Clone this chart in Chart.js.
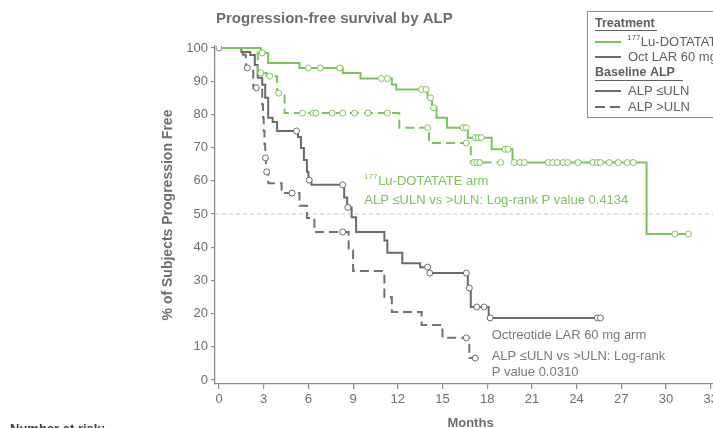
<!DOCTYPE html>
<html>
<head>
<meta charset="utf-8">
<script src="https://cdn.jsdelivr.net/npm/chart.js@4.4.0/dist/chart.umd.min.js"></script>
<style>
  html, body { margin: 0; padding: 0; background: #fff; overflow: hidden; }
  #wrap { position: relative; width: 740px; height: 444px; }
</style>
</head>
<body>
<div id="wrap"><canvas id="km" width="740" height="444"></canvas></div>
<script>
// tick labels
const monthTicks = [0, 3, 6, 9, 12, 15, 18, 21, 24, 27, 30, 33];
const pctTicks   = [0, 10, 20, 30, 40, 50, 60, 70, 80, 90, 100];

// 177Lu-DOTATATE, ALP <=ULN (step times in months, survival %)
const luLowT = [0, 2.8, 3.3, 5.4, 8.3, 9.5, 11.6, 11.9, 14.0, 14.3, 14.6, 15.3, 16.7, 18.3, 19.7, 28.7, 31.6];
const luLowS = [100, 98.5, 95.5, 94, 92.5, 90.8, 89, 87.5, 85, 82, 79, 76, 73, 69.5, 65.5, 44, 44];
const luLowCens = [2.9, 6.0, 6.8, 8.1, 10.9, 11.3, 13.6, 13.9, 14.2, 14.4, 16.4, 16.6, 17.2, 17.4, 17.6,
                   19.2, 19.4, 19.8, 20.2, 20.5, 22.1, 22.4, 22.7, 23.1, 23.4, 24.1, 25.1, 25.4, 25.6,
                   26.2, 26.8, 27.4, 27.8, 30.6, 31.5];

// 177Lu-DOTATATE, ALP >ULN
const luHighT = [0, 2.6, 3.2, 3.9, 4.4, 12.1, 14.1, 16.9, 18.9];
const luHighS = [100, 92.5, 91.5, 86.4, 80.4, 76, 71.4, 65.5, 65.5];
const luHighCens = [2.8, 3.4, 4.0, 5.6, 6.3, 6.5, 7.6, 8.3, 9.1, 10.0, 11.3, 14.0, 16.6, 17.1, 17.3, 17.5, 18.9];

// Octreotide LAR 60 mg, ALP <=ULN
const octLowT = [0, 1.5, 2.1, 2.4, 2.6, 2.9, 3.1, 3.3, 3.6, 3.9, 5.3, 5.5, 5.7, 5.9, 6.0, 6.2,
                 8.4, 8.6, 8.9, 9.2, 11.1, 11.3, 12.3, 13.5, 14.1, 16.7, 16.9, 18.1, 25.6];
const octLowS = [100, 98.8, 97.9, 94.9, 91, 88.9, 85, 79, 77.7, 75, 73.2, 69.9, 66.3, 62.7, 60.2, 58.8,
                 55, 52, 49, 44.6, 42, 38.3, 35.2, 34, 32.2, 27.7, 22, 18.7, 18.7];
const octLowCens = [5.2, 6.05, 8.3, 8.65, 14.0, 14.15, 16.6, 16.8, 17.3, 17.8, 18.2, 25.4, 25.6];

// Octreotide LAR 60 mg, ALP >ULN
const octHighT = [0, 1.6, 1.8, 2.3, 2.9, 2.95, 3.0, 3.05, 3.1, 3.15, 3.3, 4.2, 5.4, 5.9, 6.4,
                  8.7, 9.0, 11.1, 11.6, 13.6, 15.0, 16.8, 17.2];
const octHighS = [100, 98, 94, 88, 83, 79, 75, 71, 66.9, 62.7, 59.3, 56.3, 52.5, 48.8, 44.6,
                  39, 32.8, 25, 20.5, 16.6, 12.7, 6.6, 6.6];
const octHighCens = [1.9, 2.5, 3.12, 3.2, 4.9, 8.3, 16.6, 17.2];

const GREEN = '#7bc35b';
const GRAY = '#6a6b6d';
const TEXT = '#6d6e70';
const AXIS = '#8a8b8d';
const FONT = 'Arial, "Liberation Sans", sans-serif';

const stepAt = (T, S, t) => {
  let v = S[0];
  for (let i = 0; i < T.length; i++) if (T[i] <= t) v = S[i];
  return v;
};

function curve(T, S, color, dash) {
  return {
    data: T.map((t, i) => ({ x: t, y: S[i] })),
    showLine: true,
    stepped: 'before',
    borderColor: color,
    borderWidth: 2,
    borderDash: dash,
    pointRadius: 0,
    order: 2
  };
}

function censors(T, S, times, color) {
  return {
    data: times.map(t => ({ x: t, y: stepAt(T, S, t) })),
    showLine: false,
    pointStyle: 'circle',
    pointRadius: 3,
    pointBorderWidth: 1,
    borderColor: color,
    backgroundColor: '#fff',
    order: 1
  };
}

function drawSup(ctx, x, y, sup, text, size, weight) {
  ctx.textBaseline = 'middle';
  ctx.textAlign = 'left';
  ctx.font = `${weight} ${Math.round(size * 0.62)}px ${FONT}`;
  ctx.fillText(sup, x, y - size * 0.3);
  const w = ctx.measureText(sup).width;
  ctx.font = `${weight} ${size}px ${FONT}`;
  ctx.fillText(text, x + w + 0.5, y);
}

const decor = {
  id: 'decor',
  beforeDatasetsDraw(chart) {
    const { ctx, chartArea, scales } = chart;
    const y50 = scales.y.getPixelForValue(50);
    ctx.save();
    ctx.strokeStyle = '#c9c9c9';
    ctx.lineWidth = 1;
    ctx.setLineDash([4, 3]);
    ctx.beginPath();
    ctx.moveTo(chartArea.left, y50);
    ctx.lineTo(chartArea.right, y50);
    ctx.stroke();
    ctx.restore();
  },
  afterDraw(chart) {
    const { ctx, scales } = chart;
    const px = v => scales.x.getPixelForValue(v);
    const py = v => scales.y.getPixelForValue(v);
    ctx.save();

    // title
    ctx.fillStyle = TEXT;
    ctx.font = `bold 15px ${FONT}`;
    ctx.textBaseline = 'middle';
    ctx.textAlign = 'left';
    ctx.fillText('Progression-free survival by ALP', 216, 19);

    // arm annotations
    ctx.fillStyle = GREEN;
    drawSup(ctx, px(9.75), py(59.9), '177', 'Lu-DOTATATE arm', 13, 'normal');
    ctx.font = `13px ${FONT}`;
    ctx.fillText('ALP \u2264ULN vs >ULN: Log-rank P value 0.4134', px(9.75), py(54.2));

    ctx.fillStyle = '#77787a';
    ctx.fillText('Octreotide LAR 60 mg arm', px(18.3), py(13.3));
    ctx.fillText('ALP \u2264ULN vs >ULN: Log-rank', px(18.3), py(7.2));
    ctx.fillText('P value 0.0310', px(18.3), py(2.4));

    // legend box
    ctx.strokeStyle = '#8c8c8c';
    ctx.lineWidth = 1;
    ctx.strokeRect(587.5, 11.5, 200, 106);
    ctx.fillStyle = '#5e5f61';
    ctx.font = `bold 12.5px ${FONT}`;
    ctx.fillText('Treatment', 595, 24);
    ctx.fillText('Baseline ALP', 595, 73);
    ctx.fillRect(595, 30, 62, 1);
    ctx.fillRect(595, 80, 88, 1);

    const sample = (y, color, dash) => {
      ctx.strokeStyle = color;
      ctx.lineWidth = 2;
      ctx.setLineDash(dash);
      ctx.beginPath();
      ctx.moveTo(595, y);
      ctx.lineTo(621, y);
      ctx.stroke();
      ctx.setLineDash([]);
    };
    sample(42, GREEN, []);
    sample(57, GRAY, []);
    sample(91, GRAY, []);
    sample(107, GRAY, [10, 5]);

    ctx.fillStyle = '#5e5f61';
    drawSup(ctx, 627, 42, '177', 'Lu-DOTATATE', 13, 'normal');
    ctx.font = `13px ${FONT}`;
    ctx.fillText('Oct LAR 60 mg', 628, 57);
    ctx.fillText('ALP \u2264ULN', 628, 91);
    ctx.fillText('ALP >ULN', 628, 107);

    // number at risk header (cut off at the bottom edge)
    ctx.fillStyle = '#3d3e40';
    ctx.font = `bold 13px ${FONT}`;
    ctx.textBaseline = 'alphabetic';
    ctx.fillText('Number at risk:', 10, 433);
    ctx.restore();
  }
};

const datasets = [
  curve(luLowT, luLowS, GREEN, []),
  curve(luHighT, luHighS, GREEN, [9, 5]),
  curve(octLowT, octLowS, GRAY, []),
  curve(octHighT, octHighS, '#707173', [9, 5]),
  censors(luLowT, luLowS, luLowCens, GREEN),
  censors(luHighT, luHighS, luHighCens, GREEN),
  censors(octLowT, octLowS, octLowCens, GRAY),
  censors(octHighT, octHighS, octHighCens, GRAY),
  { data: [{ x: 0, y: 100 }], showLine: false, pointRadius: 3, pointBorderWidth: 1,
    borderColor: '#6f8eaa', backgroundColor: '#fff', order: 0 }
];

new Chart(document.getElementById('km'), {
  type: 'scatter',
  data: { datasets },
  options: {
    responsive: false,
    animation: false,
    events: [],
    layout: { padding: { left: 156, top: 46, right: 14, bottom: 4 } },
    plugins: { legend: { display: false }, tooltip: { enabled: false } },
    scales: {
      x: {
        type: 'linear',
        min: -0.27,
        max: 34.03,
        afterBuildTicks: s => { s.ticks = monthTicks.map(v => ({ value: v })); },
        afterFit: s => { s.height = 56; },
        grid: { drawOnChartArea: false, tickLength: 5, color: AXIS, lineWidth: 1.2 },
        border: { color: AXIS, width: 1.3 },
        ticks: { color: TEXT, padding: 3, maxRotation: 0, font: { family: FONT, size: 13 } },
        title: { display: true, text: 'Months', color: TEXT,
                 font: { family: FONT, size: 13, weight: 'bold' }, padding: { top: 4, bottom: 9 } }
      },
      y: {
        min: -1.2,
        max: 100.6,
        afterBuildTicks: s => { s.ticks = pctTicks.map(v => ({ value: v })); },
        afterFit: s => { s.width = 59; },
        grid: { drawOnChartArea: false, tickLength: 4, color: AXIS, lineWidth: 1.2 },
        border: { color: AXIS, width: 1.3 },
        ticks: { color: TEXT, padding: 3, font: { family: FONT, size: 13 } },
        title: { display: true, text: '% of Subjects Progression Free', color: TEXT,
                 font: { family: FONT, size: 14, weight: 'bold' } }
      }
    }
  },
  plugins: [decor]
});
</script>
</body>
</html>
